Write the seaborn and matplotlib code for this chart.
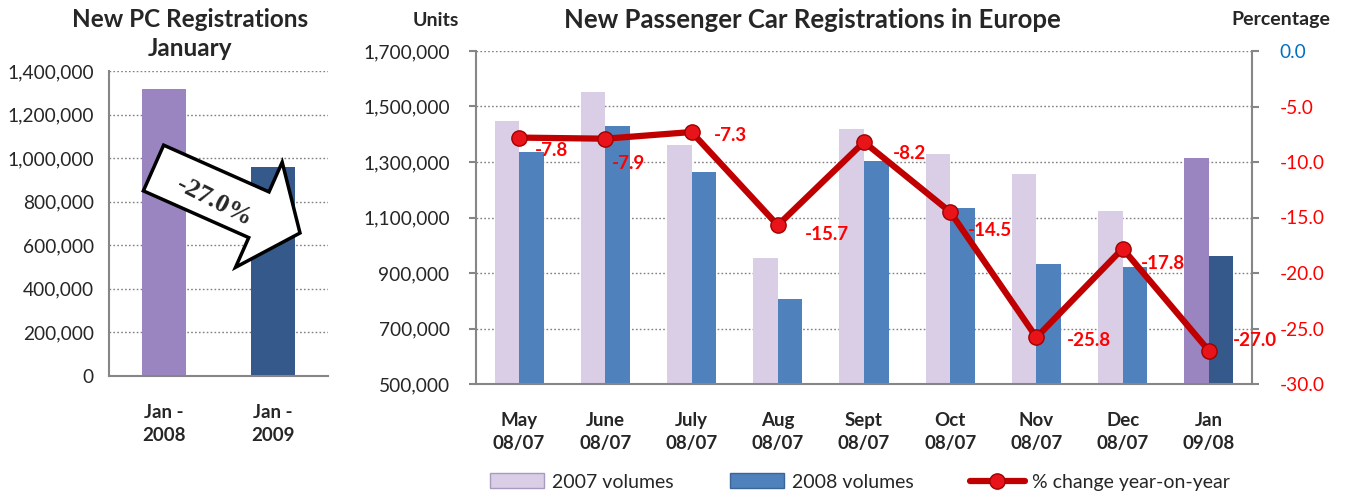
import numpy as np
import pandas as pd
import matplotlib
matplotlib.use("Agg")
import matplotlib.pyplot as plt
import seaborn as sns
from matplotlib.patches import FancyArrow, Patch
from matplotlib.lines import Line2D
from matplotlib.transforms import IdentityTransform
from matplotlib.ticker import FuncFormatter

# ---------------- data ----------------
jan_labels = ["Jan -\n2008", "Jan -\n2009"]
jan_values = [1316000, 960000]
jan_change_text = "-27.0%"

months = ["May\n08/07", "June\n08/07", "July\n08/07", "Aug\n08/07", "Sept\n08/07",
          "Oct\n08/07", "Nov\n08/07", "Dec\n08/07", "Jan\n09/08"]
vol_2007 = [1448000, 1552000, 1362000, 955000, 1419000, 1329000, 1257000, 1123000, 1314000]
vol_2008 = [1335000, 1430000, 1263000, 805000, 1304000, 1134000, 932000, 923000, 960000]
pct_change = [-7.8, -7.9, -7.3, -15.7, -8.2, -14.5, -25.8, -17.8, -27.0]
series_names = ["2007 volumes", "2008 volumes"]
line_name = "% change year-on-year"

# ---------------- style ----------------
sns.set_style("white")
plt.rcParams['font.family'] = ['Lato', 'DejaVu Sans']

LAV = "#D9CEE6"
BLUE = "#4F81BD"
PURPLE = "#9A85C0"
DARKBLUE = "#34598A"
LINE_RED = "#C00000"
MARK_RED = "#E8141A"
GRID = "#808080"
SPINE = "#868686"

W, H = 1347, 496
fig = plt.figure(figsize=(W / 100, H / 100), dpi=100)
axL = fig.add_axes([109 / W, 1 - 376 / H, 219 / W, 305 / H])
axR = fig.add_axes([476 / W, 1 - 384 / H, 776 / W, 333 / H])

fmt_thousands = FuncFormatter(lambda v, p: f"{v:,.0f}")


def style_cat_axis(ax, n, ylim, ystep, ypad, xpad):
    ax.set_xlim(-0.5, n - 0.5)
    ax.set_ylim(*ylim)
    ax.set_yticks(np.arange(ylim[0], ylim[1] + 1, ystep))
    ax.yaxis.set_major_formatter(fmt_thousands)
    ax.set_axisbelow(True)
    ax.yaxis.grid(True, linestyle=(0, (1.2, 1.6)), color=GRID, linewidth=1.0)
    ax.xaxis.grid(False)
    for s in ["top", "right"]:
        ax.spines[s].set_visible(False)
    for s in ["left", "bottom"]:
        ax.spines[s].set_color(SPINE)
        ax.spines[s].set_linewidth(1.5)
    ax.set_xticks(np.arange(-0.5, n, 1.0), minor=True)
    ax.tick_params(axis="x", which="minor", length=6, width=1.5, color=SPINE, direction="out")
    ax.tick_params(axis="x", which="major", length=0, pad=xpad, labelsize=13.5)
    ax.tick_params(axis="y", which="major", length=5, width=1.5, color=SPINE,
                   direction="out", pad=ypad, labelsize=13.8)
    for t in ax.get_xticklabels():
        t.set_fontweight("bold")
        t.set_linespacing(1.45)
    ax.set_xlabel("")
    ax.set_ylabel("")


# ---------------- left chart ----------------
dfL = pd.DataFrame({"period": jan_labels, "units": jan_values})
sns.barplot(data=dfL, x="period", y="units", hue="period", palette=[PURPLE, DARKBLUE],
            width=0.4, saturation=1, legend=False, ax=axL, edgecolor="none")
style_cat_axis(axL, len(jan_labels), (0, 1400000), 200000, 6, 20)

fig.text(190 / W, 1 - 34 / H, "New PC Registrations\nJanuary", ha="center", va="center",
         fontsize=17.5, fontweight="bold", linespacing=1.3)

arrow = FancyArrow(153.5, H - 168, 146.5, -65, width=50, head_width=115, head_length=45,
                   length_includes_head=True, transform=IdentityTransform(),
                   facecolor="white", edgecolor="black", linewidth=2.5, zorder=10)
fig.add_artist(arrow)
fig.text(214 / W, 1 - 202 / H, jan_change_text, rotation=-27, ha="center", va="center",
         rotation_mode="anchor", family=["Liberation Serif"], fontweight="bold",
         fontsize=19, zorder=11)

# ---------------- right chart ----------------
dfR = pd.DataFrame({
    "month": months * 2,
    "units": vol_2007 + vol_2008,
    "series": [series_names[0]] * len(months) + [series_names[1]] * len(months),
})
sns.barplot(data=dfR, x="month", y="units", hue="series", palette=[LAV, BLUE],
            width=0.57, saturation=1, legend=False, ax=axR, gap=0, edgecolor="none")
# last category (January) uses the darker pair of colours
for p in axR.patches:
    cx = p.get_x() + p.get_width() / 2
    if cx > len(months) - 1.5:
        p.set_facecolor(PURPLE if cx < len(months) - 1 else DARKBLUE)
style_cat_axis(axR, len(months), (500000, 1700000), 200000, 14, 20)

ax2 = axR.twinx()
xpos = np.arange(len(months))
sns.lineplot(x=xpos, y=pct_change, ax=ax2, color=LINE_RED, linewidth=4.5, marker="o",
             markersize=11, markerfacecolor=MARK_RED, markeredgecolor="#A00000",
             markeredgewidth=1, legend=False)
ax2.set_xlim(-0.5, len(months) - 0.5)
ax2.set_ylim(-30, 0)
ax2.set_yticks(np.arange(-30, 0.1, 5))
ax2.yaxis.set_major_formatter(FuncFormatter(lambda v, p: f"{v:.1f}"))
ax2.tick_params(axis="y", length=5, width=1.5, color=SPINE, direction="out", pad=15,
                labelsize=13.8)
for t, v in zip(ax2.get_yticklabels(), np.arange(-30, 0.1, 5)):
    t.set_color("#0070C0" if abs(v) < 1e-9 else "#FF0000")
for s in ["top", "left", "bottom"]:
    ax2.spines[s].set_visible(False)
ax2.spines["right"].set_color(SPINE)
ax2.spines["right"].set_linewidth(1.5)
ax2.set_ylabel("")

label_offsets = [(16, 13), (7, 25), (22, 3), (27, 9), (29, 11), (18, 19), (30, 3), (18, 15), (24, -10)]
for i, (v, (dx, dy)) in enumerate(zip(pct_change, label_offsets)):
    ax2.annotate(f"{v:.1f}", (xpos[i], v), xytext=(dx, -dy), textcoords="offset pixels",
                 ha="left", va="center", color="#FF0000", fontweight="bold", fontsize=13.5)

fig.text(812 / W, 1 - 20 / H, "New Passenger Car Registrations in Europe", ha="center",
         va="center", fontsize=18.5, fontweight="bold")
fig.text(436 / W, 1 - 20 / H, "Units", ha="center", va="center", fontsize=14, fontweight="bold")
fig.text(1281 / W, 1 - 20 / H, "Percentage", ha="center", va="center", fontsize=14,
         fontweight="bold")

handles = [
    Patch(facecolor=LAV, edgecolor="#A89BBD"),
    Patch(facecolor=BLUE, edgecolor="#3A6596"),
    Line2D([], [], color=LINE_RED, linewidth=4.5, marker="o", markersize=11,
           markerfacecolor=MARK_RED, markeredgecolor="#A00000"),
]
fig.legend(handles, series_names + [line_name], loc="center", ncol=3,
           bbox_to_anchor=(860 / W, 1 - 482 / H), frameon=False, fontsize=14,
           handlelength=2.8, handleheight=0.8, handletextpad=0.4, columnspacing=2.9)

fig.savefig("out.png", dpi=100)
